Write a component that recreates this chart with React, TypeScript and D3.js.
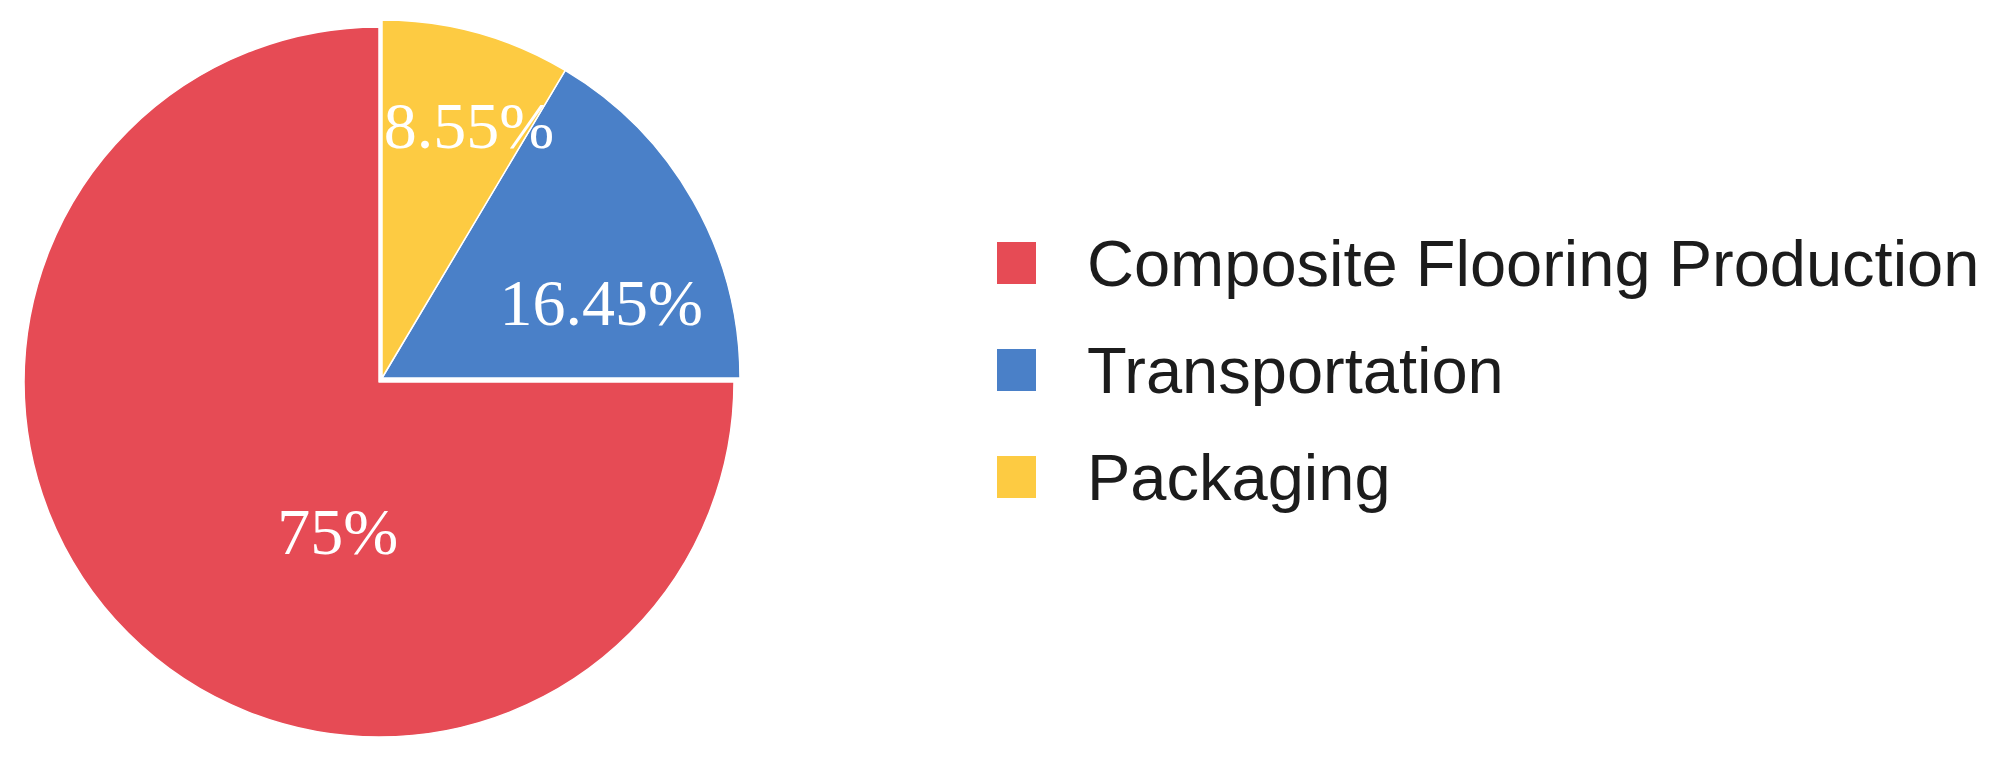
import React from "react";
import * as d3 from "d3";

const categories = ["Composite Flooring Production", "Transportation", "Packaging"];
const shares = [75, 16.45, 8.55];
const valueLabels = ["75%", "16.45%", "8.55%"];
const colors = ["#E64B55", "#4A80C8", "#FDCB42"];

// layout constants
const W = 2011;
const H = 767;
const CX = 379;
const CY = 382;
const R_MAIN = 355;
const R_DETACHED = 358;
const DETACH = { dx: 3, dy: -4 };
// label polar placement (degrees clockwise from 12 o'clock, radius px)
const labelPolar = [
  { angle: 195.4, r: 155 },
  { angle: 70.4, r: 236 },
  { angle: 19.3, r: 272 },
];

export default function App() {
  const pie = d3
    .pie<number>()
    .sort(null)
    .value((d) => d)
    .startAngle(0)
    .endAngle(-2 * Math.PI);
  const arcs = pie(shares);

  const legendX = 997;
  const legendY0 = 263;
  const legendStep = 107;

  return (
    <svg
      width={W}
      height={H}
      style={{ position: "absolute", left: 0, top: 0, background: "#fff" }}
    >
      <rect x={0} y={0} width={W} height={H} fill="#fff" />
      {arcs.map((a, i) => {
        const detached = i > 0;
        const r = detached ? R_DETACHED : R_MAIN;
        const gen = d3.arc<any>().innerRadius(0).outerRadius(r);
        const tx = CX + (detached ? DETACH.dx : 0);
        const ty = CY + (detached ? DETACH.dy : 0);
        return (
          <path
            key={categories[i]}
            d={gen(a) as string}
            transform={`translate(${tx},${ty})`}
            fill={colors[i]}
            stroke="#fff"
            strokeWidth={1.5}
            strokeLinejoin="round"
          />
        );
      })}
      {arcs.map((a, i) => {
        const lp = labelPolar[i];
        const ang = (lp.angle * Math.PI) / 180;
        const c = d3
          .arc<any>()
          .innerRadius(lp.r)
          .outerRadius(lp.r)
          .centroid({ startAngle: ang, endAngle: ang } as any);
        return (
          <text
            key={"lbl" + i}
            x={CX + c[0]}
            y={CY + c[1]}
            dy="0.34em"
            textAnchor="middle"
            fill="#fff"
            fontFamily="'Liberation Serif', 'Times New Roman', serif"
            fontSize={66}
          >
            {valueLabels[i]}
          </text>
        );
      })}
      {categories.map((c, i) => {
        const y = legendY0 + i * legendStep;
        return (
          <g key={"leg" + i}>
            <rect x={legendX} y={y - 21} width={39} height={42} fill={colors[i]} />
            <text
              x={1087}
              y={y}
              dy="0.36em"
              fill="#1c1c1c"
              fontFamily="'Liberation Sans', Arial, sans-serif"
              fontSize={65}
            >
              {c}
            </text>
          </g>
        );
      })}
    </svg>
  );
}
